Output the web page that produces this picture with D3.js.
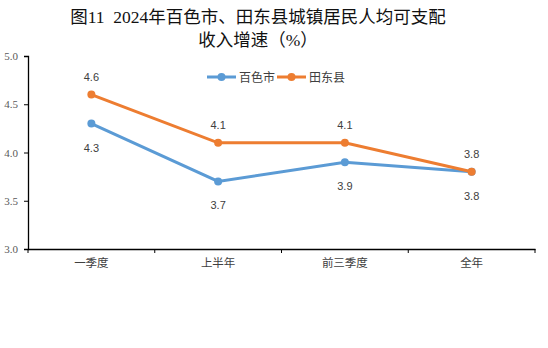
<!DOCTYPE html>
<html>
<head>
<meta charset="utf-8">
<script src="https://cdn.jsdelivr.net/npm/d3@7"></script>
<style>
  body { margin: 0; background: #fff; }
</style>
</head>
<body>
<div id="chart"></div>
<script>
// 数据
const categories = ["一季度", "上半年", "前三季度", "全年"];
const baise = [4.3, 3.7, 3.9, 3.8];
const tiandong = [4.6, 4.1, 4.1, 3.8];
const seriesNames = ["百色市", "田东县"];
const yTicks = [3.0, 3.5, 4.0, 4.5, 5.0];
const titleLines = ["图11\u00a0\u00a02024年百色市、田东县城镇居民人均可支配", "收入增速（%）"];

const svgWidth = 548, svgHeight = 348;
const margin = { top: 56, right: 13, bottom: 99, left: 28 };
const width = svgWidth - margin.left - margin.right;
const height = svgHeight - margin.top - margin.bottom;
const colors = ["#5B9BD5", "#ED7D31"];

const svg = d3.select("#chart").append("svg")
    .attr("width", svgWidth)
    .attr("height", svgHeight);

// 标题
svg.append("g").selectAll("text")
    .data(titleLines)
    .join("text")
    .attr("x", 258)
    .attr("y", (d, i) => 23 + i * 23)
    .attr("text-anchor", "middle")
    .attr("font-family", "'Liberation Serif', 'Noto Sans CJK SC', serif")
    .attr("font-size", 17.5)
    .attr("fill", "#111")
    .text(d => d);

const g = svg.append("g")
    .attr("transform", `translate(${margin.left}, ${margin.top})`);

const x = d3.scaleBand().domain(categories).range([0, width]);
const y = d3.scaleLinear().domain([3, 5]).range([height, 0]);

// Y轴
const yAxis = g.append("g")
    .call(d3.axisLeft(y).tickValues(yTicks).tickFormat(d3.format(".1f")).tickSize(4));
yAxis.select(".domain").attr("stroke", "#000").attr("stroke-width", 1.3);
yAxis.selectAll(".tick line").attr("stroke", "#000");
yAxis.selectAll("text")
    .attr("font-family", "'Liberation Serif', serif")
    .attr("font-size", 11)
    .attr("fill", "#595959")
    .attr("x", -10);

// X轴
const xAxis = g.append("g")
    .attr("transform", `translate(0, ${height})`)
    .call(d3.axisBottom(x).tickSize(0).tickSizeOuter(0));
xAxis.select(".domain").attr("stroke", "#000").attr("stroke-width", 1.3);
xAxis.selectAll("text")
    .attr("font-family", "'Noto Sans CJK SC', sans-serif")
    .attr("font-size", 11.5)
    .attr("fill", "#404040")
    .attr("dy", "1.3em");
// 分类间隔刻度
g.append("g").selectAll("line")
    .data(categories.map((c, i) => i).concat([categories.length]))
    .join("line")
    .attr("x1", i => i * x.step())
    .attr("x2", i => i * x.step())
    .attr("y1", height)
    .attr("y2", height + 4)
    .attr("stroke", "#000");

const series = [baise, tiandong];
const line = d3.line()
    .x((d, i) => x(categories[i]) + x.bandwidth() / 2)
    .y(d => y(d));

series.forEach((data, s) => {
    g.append("path")
        .datum(data)
        .attr("fill", "none")
        .attr("stroke", colors[s])
        .attr("stroke-width", 3)
        .attr("d", line);
    g.append("g").selectAll("circle")
        .data(data)
        .join("circle")
        .attr("cx", (d, i) => x(categories[i]) + x.bandwidth() / 2)
        .attr("cy", d => y(d))
        .attr("r", 4)
        .attr("fill", colors[s]);
    // 数据标签：田东县在上方，百色市在下方
    g.append("g").selectAll("text")
        .data(data)
        .join("text")
        .attr("x", (d, i) => x(categories[i]) + x.bandwidth() / 2)
        .attr("y", d => y(d) + (s === 0 ? 28 : -14))
        .attr("text-anchor", "middle")
        .attr("font-family", "'Liberation Sans', sans-serif")
        .attr("font-size", 11)
        .attr("fill", "#404040")
        .text(d => d3.format(".1f")(d));
});

// 图例
const legend = svg.append("g").attr("transform", "translate(207, 77)");
const legendX = [0, 70];
seriesNames.forEach((name, s) => {
    const lg = legend.append("g").attr("transform", `translate(${legendX[s]}, 0)`);
    lg.append("line").attr("x1", 0).attr("x2", 29).attr("y1", 0).attr("y2", 0)
        .attr("stroke", colors[s]).attr("stroke-width", 3);
    lg.append("circle").attr("cx", 14.5).attr("cy", 0).attr("r", 4).attr("fill", colors[s]);
    lg.append("text").attr("x", 32).attr("y", 4.5)
        .attr("font-family", "'Noto Sans CJK SC', sans-serif")
        .attr("font-size", 12)
        .attr("fill", "#404040")
        .text(name);
});
</script>
</body>
</html>
